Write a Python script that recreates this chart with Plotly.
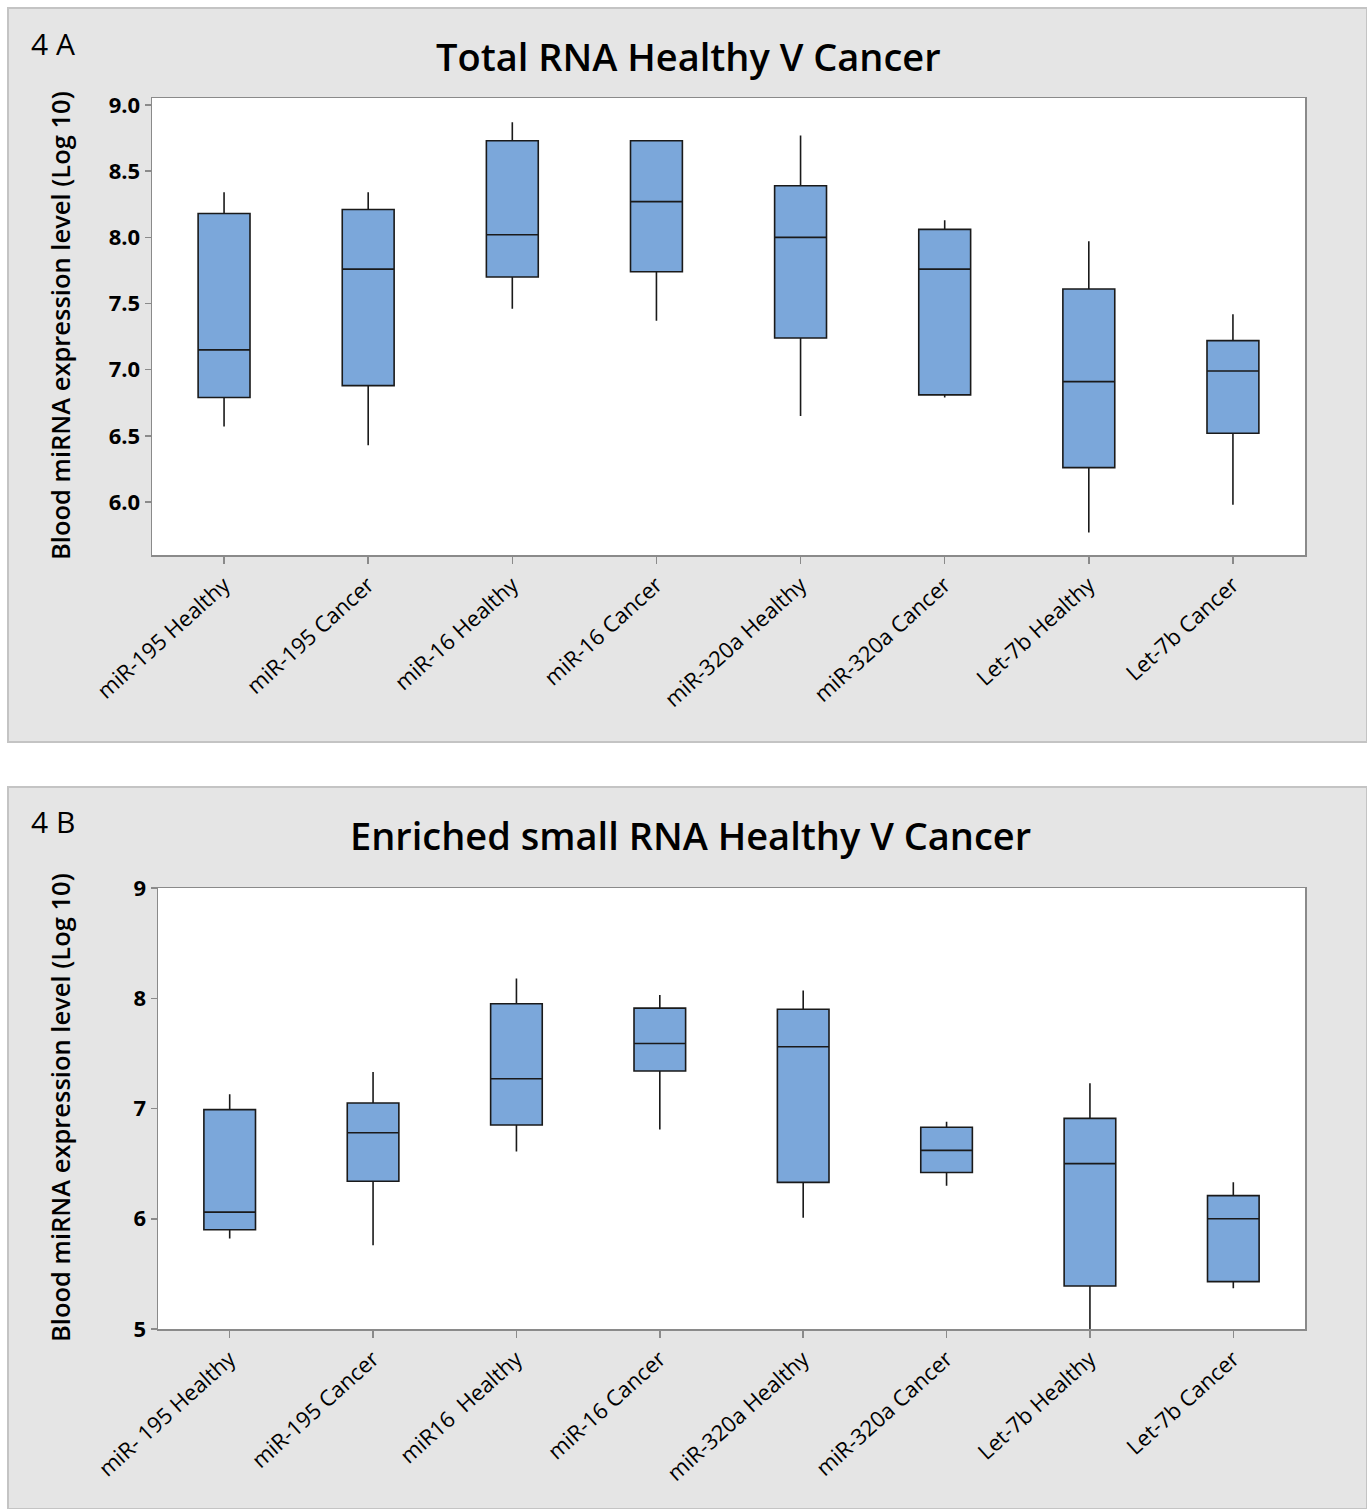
import plotly.graph_objects as go

W, H = 1367, 1509

# ---------------- data ----------------
cats_a = ["miR-195 Healthy", "miR-195 Cancer", "miR-16 Healthy", "miR-16 Cancer",
          "miR-320a Healthy", "miR-320a Cancer", "Let-7b Healthy", "Let-7b Cancer"]
lo_a  = [6.57, 6.43, 7.46, 7.37, 6.65, 6.79, 5.77, 5.98]
q1_a  = [6.79, 6.88, 7.70, 7.74, 7.24, 6.81, 6.26, 6.52]
med_a = [7.15, 7.76, 8.02, 8.27, 8.00, 7.76, 6.91, 6.99]
q3_a  = [8.18, 8.21, 8.73, 8.73, 8.39, 8.06, 7.61, 7.22]
hi_a  = [8.34, 8.34, 8.87, 8.73, 8.77, 8.13, 7.97, 7.42]

cats_b = ["miR- 195 Healthy", "miR-195 Cancer", "miR16  Healthy", "miR-16 Cancer",
          "miR-320a Healthy", "miR-320a Cancer", "Let-7b Healthy", "Let-7b Cancer"]
lo_b  = [5.82, 5.76, 6.61, 6.81, 6.01, 6.30, 5.00, 5.37]
q1_b  = [5.90, 6.34, 6.85, 7.34, 6.33, 6.42, 5.39, 5.43]
med_b = [6.06, 6.78, 7.27, 7.59, 7.56, 6.62, 6.50, 6.00]
q3_b  = [6.99, 7.05, 7.95, 7.91, 7.90, 6.83, 6.91, 6.21]
hi_b  = [7.13, 7.33, 8.18, 8.03, 8.07, 6.88, 7.23, 6.33]

yticks_a = [6.0, 6.5, 7.0, 7.5, 8.0, 8.5, 9.0]
yticks_b = [5, 6, 7, 8, 9]

title_a = "Total RNA Healthy V Cancer"
title_b = "Enriched small RNA Healthy V Cancer"
ytitle = "Blood miRNA expression level (Log 10)"

# ---------------- style ----------------
FONT = "Open Sans"
FILL = "#7BA7DA"
GRAY_BG = "#E5E5E5"
AXIS_C = "#8a8a8a"

def px(x):
    return x / W

def py(y):
    return 1 - y / H

fig = go.Figure()

def add_box(cats, lo, q1, med, q3, hi, xa, ya):
    fig.add_trace(go.Box(
        x=cats, lowerfence=lo, q1=q1, median=med, q3=q3, upperfence=hi,
        xaxis=xa, yaxis=ya, fillcolor=FILL,
        line=dict(color="#1a1a1a", width=1.6),
        whiskerwidth=0, width=0.36, boxpoints=False, showlegend=False,
        hoverinfo="skip"))

add_box(cats_a, lo_a, q1_a, med_a, q3_a, hi_a, "x", "y")
add_box(cats_b, lo_b, q1_b, med_b, q3_b, hi_b, "x2", "y2")

xcommon = dict(type="category", range=[-0.5, 7.5], showgrid=False, zeroline=False,
               showline=True, linecolor=AXIS_C, linewidth=1.5, mirror=True,
               ticks="outside", ticklen=7, tickcolor=AXIS_C, tickwidth=1.5,
               tickangle=-42, tickfont=dict(family=FONT, size=22, color="black"),
               automargin=False, fixedrange=True)
ycommon = dict(showgrid=False, zeroline=False, showline=True, linecolor=AXIS_C,
               linewidth=1.5, mirror=True, ticks="outside", ticklen=6,
               tickcolor=AXIS_C, tickwidth=1.5,
               tickfont=dict(family=FONT, size=22, color="black", weight=700),
               automargin=False, fixedrange=True)

fig.update_layout(
    template="none",
    width=W, height=H, margin=dict(l=0, r=0, t=0, b=0, pad=0), autosize=False,
    paper_bgcolor="white", plot_bgcolor="white",
    xaxis=dict(domain=[px(152), px(1305)], anchor="y", **xcommon),
    yaxis=dict(domain=[py(555), py(98)], anchor="x", range=[5.6, 9.053],
               tickvals=yticks_a, ticktext=[f"{v:.1f}" for v in yticks_a], **ycommon),
    xaxis2=dict(domain=[px(158), px(1305)], anchor="y2", **xcommon),
    yaxis2=dict(domain=[py(1329), py(888)], anchor="x2", range=[5, 9],
                tickvals=yticks_b, ticktext=[str(v) for v in yticks_b], **ycommon),
)

# panel backgrounds
for (x0, y0, x1, y1) in [(8, 8, 1367, 742), (8, 787, 1367, 1509)]:
    fig.add_shape(type="rect", xref="paper", yref="paper",
                  x0=px(x0), x1=px(x1), y0=py(y1), y1=py(y0),
                  fillcolor=GRAY_BG, line=dict(color="#c4c4c4", width=2),
                  layer="below")
# white plotting areas
for xr, yr in [("x domain", "y domain"), ("x2 domain", "y2 domain")]:
    fig.add_shape(type="rect", xref=xr, yref=yr, x0=0, x1=1, y0=0, y1=1,
                  fillcolor="white", line=dict(width=0), layer="below")

def ann(text, x, y, size, angle=0, weight=400, xanchor="center"):
    fig.add_annotation(text=text, xref="paper", yref="paper", x=px(x), y=py(y),
                       showarrow=False, textangle=angle, xanchor=xanchor, yanchor="middle",
                       font=dict(family=FONT, size=size, color="black", weight=weight))

ann("4 A", 29, 43, 30, xanchor="left")
ann("4 B", 29, 822, 30, xanchor="left")
ann(title_a, 688, 56, 38, weight=600)
ann(title_b, 690, 835, 38, weight=600)
ann(ytitle, 60, 326, 25.5, angle=-90, weight=600)
ann(ytitle, 60, 1108, 25.5, angle=-90, weight=600)

fig.write_html("out.html", config={"displayModeBar": False, "staticPlot": True},
               post_script="document.body.style.margin='0px';document.body.style.overflow='hidden';")
